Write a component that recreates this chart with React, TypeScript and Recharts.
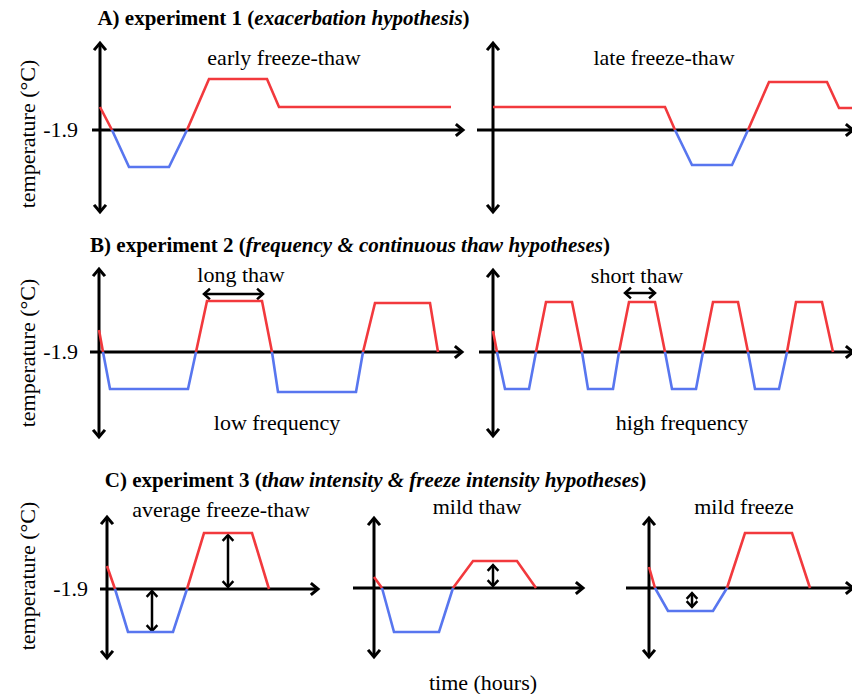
import React from "react";
import { LineChart, Line, XAxis, YAxis, ReferenceLine } from "recharts";

const BASE = -1.9;
const RED = "#f2393d";
const BLUE = "#5876ef";
const PX_PER_HOUR = 2;
const PX_PER_DEG = 20;

// ---- data (hours, °C) ----
const a1Hours = [0, 6, 14.5, 34.5, 43.5, 54.5, 83.5, 89.5, 175.5];
const a1Temps = [-0.75, -1.9, -3.75, -3.75, -1.9, 0.65, 0.65, -0.75, -0.75];

const a2Hours = [0, 86, 91, 99.5, 119.5, 127.5, 138, 167, 173, 179.5];
const a2Temps = [-0.75, -0.75, -1.9, -3.65, -3.65, -1.9, 0.5, 0.5, -0.8, -0.8];

const b1Hours = [0, 2, 5.5, 44.5, 48.5, 54, 81.5, 86.5, 89.5, 128.5, 132, 138, 165.5, 169.5];
const b1Temps = [-0.8, -1.9, -3.75, -3.75, -1.9, 0.65, 0.65, -1.9, -3.9, -3.9, -1.9, 0.55, 0.55, -1.9];

const b2Hours = [0, 2, 6, 18, 21.5, 26.5, 39.5, 44.5, 47.5, 60, 63, 68, 81, 86, 89.5, 101.5, 105, 110, 122.5, 127.5, 131, 143, 147, 151.5, 164.5, 170];
const b2Temps = [-0.85, -1.9, -3.75, -3.75, -1.9, 0.6, 0.6, -1.9, -3.75, -3.75, -1.9, 0.6, 0.6, -1.9, -3.75, -3.75, -1.9, 0.6, 0.6, -1.9, -3.75, -3.75, -1.9, 0.6, 0.6, -1.9];

const c1Hours = [0, 4, 10.5, 33, 40, 48.5, 72.5, 81];
const c1Temps = [-0.75, -1.9, -4.05, -4.05, -1.9, 0.9, 0.9, -1.9];

const c2Hours = [0, 4, 10, 32.5, 39.5, 49.5, 71.5, 81];
const c2Temps = [-1.35, -1.9, -4.1, -4.1, -1.9, -0.55, -0.55, -1.9];

const c3Hours = [0, 3, 9.5, 32, 39, 48, 71.5, 80.5];
const c3Temps = [-0.85, -1.9, -3.05, -3.05, -1.9, 0.85, 0.85, -1.9];

// axis extents: [time start, time end, temp top, temp bottom]
const a1Axis = [-4, 181.5, 2.45, -6.0];
const a2Axis = [-8, 180, 2.45, -6.0];
const b1Axis = [-4.5, 181.5, 2.25, -6.15];
const b2Axis = [-7, 180, 2.2, -6.1];
const c1Axis = [-3.5, 105.5, 1.7, -5.35];
const c2Axis = [-10.5, 104.5, 1.6, -5.35];
const c3Axis = [-11.5, 102, 1.6, -5.35];

// double-headed annotation arrows: [t1, temp1, t2, temp2]
const b1Arrows = [[52.5, 1.0, 82, 1.0]];
const b2Arrows = [[66, 1.05, 81, 1.05]];
const c1Arrows = [[22.5, -2.0, 22.5, -4.0], [60.5, 0.8, 60.5, -1.8]];
const c2Arrows = [[59.5, -0.75, 59.5, -1.8]];
const c3Arrows = [[21.5, -2.15, 21.5, -2.85]];

const FONT = '"Liberation Serif", "Times New Roman", Tinos, "DejaVu Serif", "Noto Serif", Times, serif';

function head(x1: number, y1: number, x2: number, y2: number, L: number, W: number) {
  const dx = x2 - x1;
  const dy = y2 - y1;
  const len = Math.sqrt(dx * dx + dy * dy) || 1;
  const ux = dx / len;
  const uy = dy / len;
  const nx = -uy;
  const ny = ux;
  const bx = x2 - ux * L;
  const by = y2 - uy * L;
  return `M${bx + nx * W},${by + ny * W} L${x2},${y2} L${bx - nx * W},${by - ny * W}`;
}

const arrowShape = (both: boolean, sw: number, L: number, W: number) => (props: any) => {
  const { x1, y1, x2, y2 } = props;
  if ([x1, y1, x2, y2].some((v) => typeof v !== "number" || isNaN(v))) return <g />;
  return (
    <g>
      <line x1={x1} y1={y1} x2={x2} y2={y2} stroke="#000" strokeWidth={sw} />
      <path d={head(x1, y1, x2, y2, L, W)} fill="none" stroke="#000" strokeWidth={sw} strokeLinejoin="miter" strokeLinecap="square" />
      {both ? (
        <path d={head(x2, y2, x1, y1, L, W)} fill="none" stroke="#000" strokeWidth={sw} strokeLinejoin="miter" strokeLinecap="square" />
      ) : null}
    </g>
  );
};

type Spec = {
  hours: number[];
  temps: number[];
  axis: number[];
  arrows: number[][];
  left: number;
  top: number;
  width: number;
  height: number;
  x0: number;
  yBase: number;
};

function Panel({ s }: { s: Spec }) {
  const data = s.hours.map((t, i) => ({
    t,
    red: s.temps[i] >= BASE ? s.temps[i] : null,
    blue: s.temps[i] <= BASE ? s.temps[i] : null,
  }));
  const xmin = -(s.x0 - s.left) / PX_PER_HOUR;
  const xmax = (s.left + s.width - s.x0) / PX_PER_HOUR;
  const ymax = BASE + (s.yBase - s.top) / PX_PER_DEG;
  const ymin = BASE - (s.top + s.height - s.yBase) / PX_PER_DEG;
  const [hs, he, vt, vb] = s.axis;
  return (
    <div style={{ position: "absolute", left: s.left, top: s.top }}>
      <LineChart width={s.width} height={s.height} data={data} margin={{ top: 0, right: 0, bottom: 0, left: 0 }}>
        <XAxis type="number" dataKey="t" domain={[xmin, xmax]} hide allowDataOverflow height={0} />
        <YAxis type="number" domain={[ymin, ymax]} hide allowDataOverflow width={0} />
        <ReferenceLine
          segment={[{ x: hs, y: BASE }, { x: he, y: BASE }]}
          ifOverflow="visible"
          shape={arrowShape(false, 3, 6, 5)}
        />
        <ReferenceLine
          segment={[{ x: 0, y: vb }, { x: 0, y: vt }]}
          ifOverflow="visible"
          shape={arrowShape(true, 3, 6, 5)}
        />
        {s.arrows.map((a, i) => (
          <ReferenceLine
            key={i}
            segment={[{ x: a[0], y: a[1] }, { x: a[2], y: a[3] }]}
            ifOverflow="visible"
            shape={arrowShape(true, 2.5, 5, 4.5)}
          />
        ))}
        <Line type="linear" dataKey="red" stroke={RED} strokeWidth={2.6} dot={false} activeDot={false} connectNulls={false} isAnimationActive={false} />
        <Line type="linear" dataKey="blue" stroke={BLUE} strokeWidth={2.6} dot={false} activeDot={false} connectNulls={false} isAnimationActive={false} />
      </LineChart>
    </div>
  );
}

const specs: Spec[] = [
  { hours: a1Hours, temps: a1Temps, axis: a1Axis, arrows: [], left: 80, top: 35, width: 395, height: 185, x0: 100, yBase: 130 },
  { hours: a2Hours, temps: a2Temps, axis: a2Axis, arrows: [], left: 470, top: 35, width: 382, height: 185, x0: 493, yBase: 130 },
  { hours: b1Hours, temps: b1Temps, axis: b1Axis, arrows: b1Arrows, left: 80, top: 262, width: 395, height: 182, x0: 99, yBase: 352 },
  { hours: b2Hours, temps: b2Temps, axis: b2Axis, arrows: b2Arrows, left: 470, top: 262, width: 382, height: 182, x0: 493, yBase: 352 },
  { hours: c1Hours, temps: c1Temps, axis: c1Axis, arrows: c1Arrows, left: 90, top: 510, width: 240, height: 155, x0: 107, yBase: 589 },
  { hours: c2Hours, temps: c2Temps, axis: c2Axis, arrows: c2Arrows, left: 345, top: 510, width: 250, height: 155, x0: 374, yBase: 588 },
  { hours: c3Hours, temps: c3Temps, axis: c3Axis, arrows: c3Arrows, left: 615, top: 510, width: 237, height: 155, x0: 649, yBase: 588 },
];

const base: React.CSSProperties = {
  position: "absolute",
  fontFamily: FONT,
  fontSize: 22,
  lineHeight: 1,
  whiteSpace: "nowrap",
  color: "#000",
};

function Centered({ x, y, children, style }: { x: number; y: number; children: React.ReactNode; style?: React.CSSProperties }) {
  return <div style={{ ...base, left: x, top: y, transform: "translate(-50%, -50%)", ...style }}>{children}</div>;
}

function RightText({ x, y, children }: { x: number; y: number; children: React.ReactNode }) {
  return <div style={{ ...base, left: x, top: y, transform: "translate(-100%, -50%)" }}>{children}</div>;
}

function YLabel({ x, y }: { x: number; y: number }) {
  return (
    <div style={{ ...base, left: x, top: y, transform: "translate(-50%, -50%) rotate(-90deg)" }}>temperature (°C)</div>
  );
}

const titleStyle: React.CSSProperties = { fontWeight: "bold", fontSize: 21 };

export default function App() {
  return (
    <div style={{ position: "absolute", left: 0, top: 0, width: 852, height: 694, background: "#fff", overflow: "hidden" }}>
      {specs.map((s, i) => (
        <Panel key={i} s={s} />
      ))}
      <Centered x={283.5} y={18} style={titleStyle}>
        A) experiment 1 (<i>exacerbation hypothesis</i>)
      </Centered>
      <Centered x={350} y={245} style={titleStyle}>
        B) experiment 2 (<i>frequency &amp; continuous thaw hypotheses</i>)
      </Centered>
      <Centered x={375.5} y={480} style={titleStyle}>
        C) experiment 3 (<i>thaw intensity &amp; freeze intensity hypotheses</i>)
      </Centered>

      <Centered x={284} y={58}>early freeze-thaw</Centered>
      <Centered x={664} y={58}>late freeze-thaw</Centered>
      <Centered x={241} y={275}>long thaw</Centered>
      <Centered x={277} y={423}>low frequency</Centered>
      <Centered x={637} y={276}>short thaw</Centered>
      <Centered x={682} y={423}>high frequency</Centered>
      <Centered x={221} y={510}>average freeze-thaw</Centered>
      <Centered x={477} y={507}>mild thaw</Centered>
      <Centered x={744} y={507}>mild freeze</Centered>
      <Centered x={483} y={683}>time (hours)</Centered>

      <RightText x={78} y={130}>-1.9</RightText>
      <RightText x={78} y={352}>-1.9</RightText>
      <RightText x={88} y={589}>-1.9</RightText>

      <YLabel x={28} y={134} />
      <YLabel x={28} y={353} />
      <YLabel x={28} y={576} />
    </div>
  );
}
